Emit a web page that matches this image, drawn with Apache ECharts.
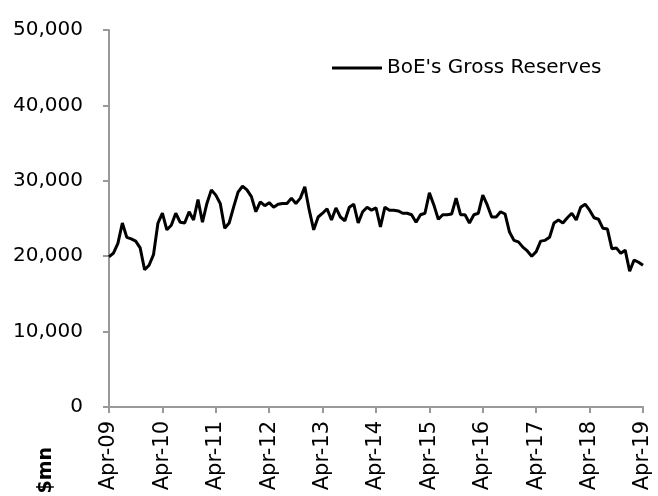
<!DOCTYPE html>
<html>
<head>
<meta charset="utf-8">
<script src="https://cdn.jsdelivr.net/npm/echarts@6/dist/echarts.min.js"></script>
<style>
  html, body { margin: 0; padding: 0; background: #fff; }
  #chart { width: 658px; height: 496px; }
</style>
</head>
<body>
<div id="chart"></div>
<script>
// monthly, Apr-09 .. Apr-19
var monthNames = ['Jan', 'Feb', 'Mar', 'Apr', 'May', 'Jun', 'Jul', 'Aug', 'Sep', 'Oct', 'Nov', 'Dec'];
var startYear = 2009, startMonth = 3, monthCount = 121;

var reserves = [
  19900, 20400, 21700, 24400, 22500, 22300, 22000, 21100, 18200, 18800, 20200, 24400,
  25700, 23500, 24100, 25700, 24500, 24400, 25900, 24800, 27500, 24500, 27000, 28800,
  28100, 27000, 23700, 24400, 26500, 28500, 29300, 28800, 27900, 25900, 27200, 26700,
  27100, 26500, 26900, 27000, 27000, 27700, 27000, 27700, 29200, 26100, 23500, 25200,
  25700, 26300, 24800, 26400, 25200, 24700, 26500, 26900, 24400, 25900, 26500, 26100,
  26400, 23900, 26500, 26100, 26100, 26000, 25700, 25700, 25500, 24500, 25500, 25700,
  28400, 26800, 24900, 25500, 25500, 25600, 27700, 25500, 25500, 24400, 25500, 25700,
  28100, 26800, 25200, 25200, 25900, 25600, 23200, 22100, 21900, 21200, 20700, 20000,
  20600, 22000, 22100, 22500, 24400, 24800, 24400, 25100, 25700, 24800, 26500, 26900,
  26100, 25100, 24900, 23700, 23600, 21000, 21100, 20400, 20800, 18000, 19500, 19200,
  18800
];

var months = [];
for (var i = 0; i < monthCount; i++) {
  var m = startMonth + i;
  var yy = startYear + Math.floor(m / 12);
  months.push(monthNames[m % 12] + '-' + String(yy % 100).padStart(2, '0'));
}

var font = 'DejaVu Sans';
var chart = echarts.init(document.getElementById('chart'));
var option = {
  animation: false,
  textStyle: { fontFamily: font },
  grid: { left: 109, right: 15, top: 30, bottom: 89 },
  legend: {
    data: ["BoE's Gross Reserves"],
    left: 332,
    top: 58,
    padding: 0,
    icon: 'rect',
    itemWidth: 50,
    itemHeight: 3,
    textStyle: { fontFamily: font, fontSize: 20, color: '#000' }
  },
  xAxis: {
    type: 'category',
    data: months,
    boundaryGap: false,
    axisLine: { lineStyle: { color: '#999', width: 2 } },
    axisTick: { interval: 11, length: 6, lineStyle: { color: '#999', width: 2 } },
    axisLabel: {
      interval: 11,
      rotate: 90,
      margin: 14,
      fontFamily: font,
      fontSize: 21,
      color: '#000'
    }
  },
  yAxis: {
    type: 'value',
    min: 0,
    max: 50000,
    interval: 10000,
    splitLine: { show: false },
    axisLine: { show: true, lineStyle: { color: '#999', width: 2 } },
    axisTick: { show: true, length: 6, lineStyle: { color: '#999', width: 2 } },
    axisLabel: {
      margin: 26,
      fontFamily: font,
      fontSize: 20,
      color: '#000',
      formatter: function (v) { return v.toLocaleString('en-US'); }
    }
  },
  graphic: [{
    type: 'text',
    left: 37,
    top: 447,
    rotation: Math.PI / 2,
    style: {
      text: '$mn',
      fontFamily: font,
      fontSize: 19,
      fontWeight: 'bold',
      fill: '#000'
    }
  }],
  series: [{
    name: "BoE's Gross Reserves",
    type: 'line',
    data: reserves,
    symbol: 'none',
    lineStyle: { color: '#000', width: 3 },
    itemStyle: { color: '#000' }
  }]
};
chart.setOption(option);
</script>
</body>
</html>
